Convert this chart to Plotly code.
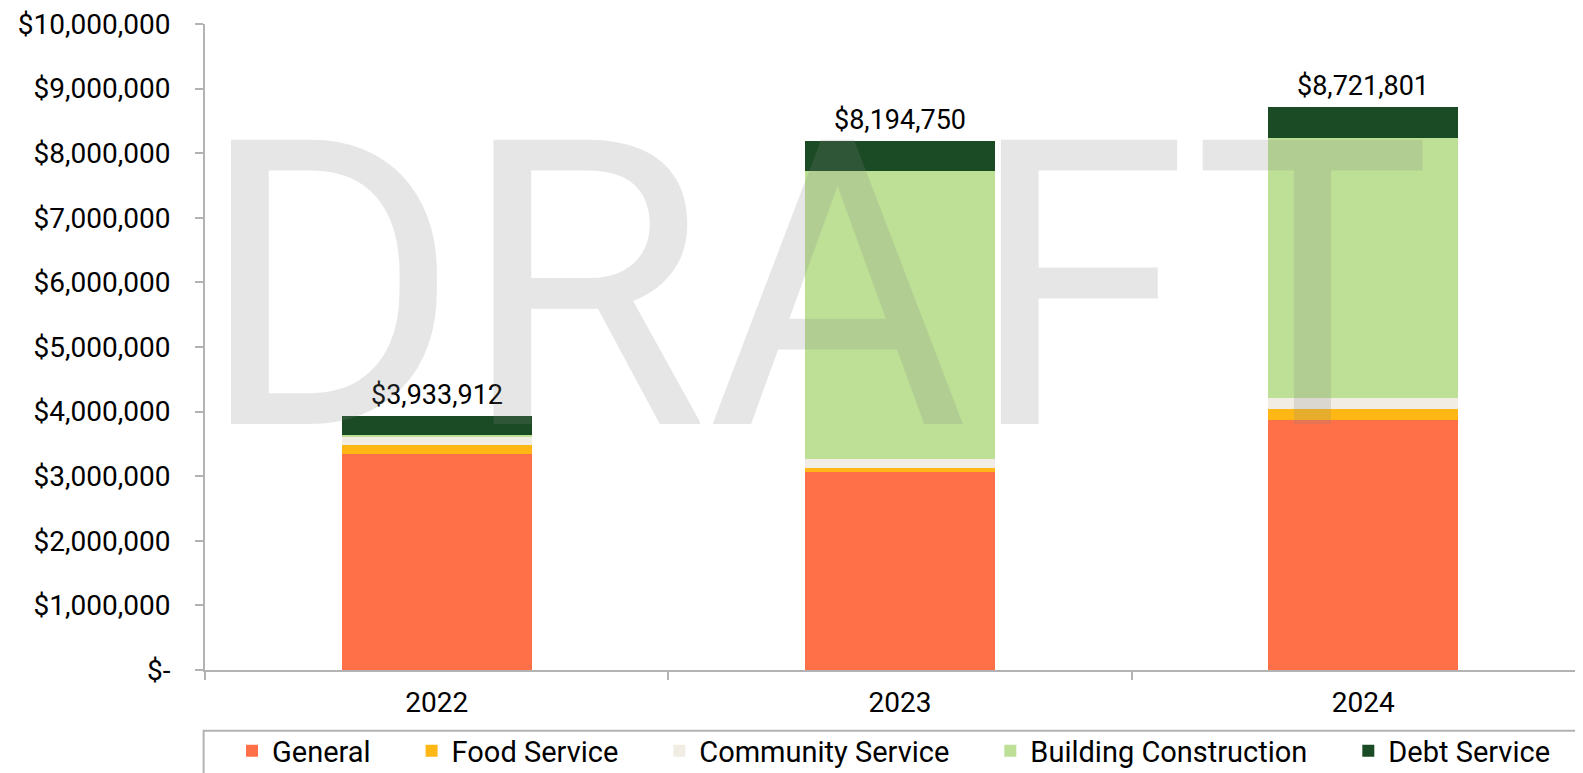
import plotly.graph_objects as go

years = ["2022", "2023", "2024"]
general = [3340000, 3070000, 3870000]
food_service = [140000, 60000, 165000]
community_service = [140000, 135000, 170000]
building_construction = [20000, 4460000, 4025000]
debt_service = [293912, 469750, 491801]

y_tick_vals = [0, 1000000, 2000000, 3000000, 4000000, 5000000,
               6000000, 7000000, 8000000, 9000000, 10000000]
y_tick_text = ["$-", "$1,000,000", "$2,000,000", "$3,000,000", "$4,000,000",
               "$5,000,000", "$6,000,000", "$7,000,000", "$8,000,000",
               "$9,000,000", "$10,000,000"]

series = [
    ("General", general, "#FF7049"),
    ("Food Service", food_service, "#FFB716"),
    ("Community Service", community_service, "#F1EDE4"),
    ("Building Construction", building_construction, "#BDE096"),
    ("Debt Service", debt_service, "#1B4B24"),
]

totals = [sum(v) for v in zip(general, food_service, community_service,
                              building_construction, debt_service)]

FONT = "Roboto"
GRAY = "#b3b3b3"
PAD = "\u00a0" * 5  # extra room between legend entries

fig = go.Figure()

for i, (name, vals, color) in enumerate(series):
    label = name + (PAD if i < len(series) - 1 else "")
    fig.add_trace(go.Bar(
        x=years, y=vals, name=label,
        marker=dict(color=color, line=dict(width=0)),
        hoverinfo="skip"
    ))

# total labels above each stack (category index, since the years look numeric)
for idx, tot in enumerate(totals):
    fig.add_annotation(
        x=idx, y=tot, text="${:,}".format(tot), showarrow=False,
        yanchor="bottom", yshift=3,
        font=dict(family=FONT, size=27, color="black")
    )

# watermark
fig.add_annotation(
    text="DRAFT", xref="paper", yref="paper", x=0.4385, y=0.5925,
    xanchor="center", yanchor="middle", showarrow=False,
    font=dict(family=FONT, size=400, color="rgba(128,128,128,0.2)")
)

# legend frame
fig.add_shape(
    type="rect", xref="paper", yref="paper",
    x0=-0.001, x1=1.02, y0=-0.2, y1=-0.094,
    line=dict(color=GRAY, width=2), fillcolor="rgba(0,0,0,0)"
)

fig.update_layout(
    width=1587, height=773,
    barmode="stack", bargap=0.59,
    plot_bgcolor="white", paper_bgcolor="white",
    margin=dict(l=197, r=0, t=16, b=111, autoexpand=False),
    font=dict(family=FONT, size=28, color="black"),
    showlegend=True,
    legend=dict(
        orientation="h", x=0.4957, y=-0.1254, xanchor="center", yanchor="middle",
        font=dict(family=FONT, size=29), traceorder="normal",
        borderwidth=0, bgcolor="rgba(0,0,0,0)"
    ),
    xaxis=dict(
        type="category", range=[-0.5, len(years) - 0.5],
        showline=True, linecolor=GRAY, linewidth=2, automargin=False,
        ticks="outside", tickson="boundaries", ticklen=8, tickcolor=GRAY, tickwidth=2,
        showgrid=False, tickfont=dict(size=28), ticklabelstandoff=6, fixedrange=True
    ),
    yaxis=dict(
        range=[0, 10000000], tickvals=y_tick_vals, ticktext=y_tick_text,
        showline=True, linecolor=GRAY, linewidth=2, automargin=False,
        ticks="outside", ticklen=8, tickcolor=GRAY, tickwidth=2,
        showgrid=False, zeroline=False, tickfont=dict(size=28),
        ticklabelstandoff=19, ticklabeloverflow="allow"
    ),
)

fig.write_html("out.html")
